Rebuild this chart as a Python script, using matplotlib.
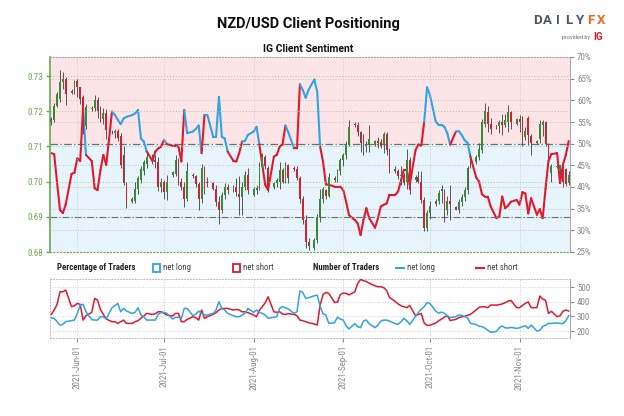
import matplotlib
matplotlib.use('Agg')
import matplotlib.pyplot as plt
import matplotlib.dates as mdates
from matplotlib import font_manager
from matplotlib.collections import LineCollection
from matplotlib.patches import Rectangle
from matplotlib.lines import Line2D
import pandas as pd

# daily candles, Sunday to Friday (no Saturday bars)
days = pd.date_range('2021-05-23', '2021-11-18')
days = days[days.dayofweek != 5]

# NZD/USD daily OHLC, one row per week
opens = [
    0.7168, 0.7176, 0.7216, 0.7235, 0.7282, 0.7292,
    0.7252, 0.7256, 0.7285, 0.7268, 0.7240, 0.7158,
    0.7206, 0.7208, 0.7232, 0.7200, 0.7178, 0.7196,
    0.7142, 0.7138, 0.7145, 0.7130, 0.7075, 0.6996,
    0.6942, 0.6945, 0.6980, 0.7005, 0.7030, 0.7050,
    0.7068, 0.7062, 0.7055, 0.6985, 0.7000, 0.6970,
    0.7018, 0.7022, 0.7062, 0.7000, 0.6985, 0.6950,
    0.7020, 0.7015, 0.6992, 0.6950, 0.7040, 0.7000,
    0.6995, 0.6980, 0.6942, 0.6920, 0.6962, 0.6985,
    0.6978, 0.6985, 0.6965, 0.6955, 0.6985, 0.7018,
    0.6962, 0.6975, 0.6982, 0.7042, 0.7070, 0.7040,
    0.6985, 0.6995, 0.7000, 0.7032, 0.7000, 0.7048,
    0.7040, 0.7035, 0.7010, 0.6950, 0.6890, 0.6828,
    0.6812, 0.6835, 0.6900, 0.6950, 0.6975, 0.6958,
    0.7010, 0.7005, 0.7030, 0.7062, 0.7075, 0.7105,
    0.7165, 0.7160, 0.7140, 0.7110, 0.7100, 0.7108,
    0.7105, 0.7115, 0.7112, 0.7105, 0.7135, 0.7090,
    0.7035, 0.7030, 0.7015, 0.7020, 0.6998, 0.7060,
    0.7005, 0.7012, 0.7000, 0.6948, 0.6868, 0.6910,
    0.6935, 0.6945, 0.6980, 0.6970, 0.6918, 0.6945,
    0.6928, 0.6920, 0.6942, 0.6955, 0.6975, 0.7072,
    0.7055, 0.7070, 0.7090, 0.7165, 0.7198, 0.7165,
    0.7155, 0.7158, 0.7168, 0.7160, 0.7170, 0.7198,
    0.7165, 0.7178, 0.7182, 0.7128, 0.7180, 0.7130,
    0.7110, 0.7120, 0.7162, 0.7168, 0.7108, 0.7025,
    0.7042, 0.7035, 0.7046, 0.7035, 0.6995,
]
highs = [
    0.7184, 0.7224, 0.7254, 0.7318, 0.7312, 0.7296,
    0.7262, 0.7290, 0.7292, 0.7270, 0.7246, 0.7220,
    0.7214, 0.7245, 0.7240, 0.7215, 0.7210, 0.7205,
    0.7148, 0.7150, 0.7150, 0.7138, 0.7100, 0.7000,
    0.6955, 0.7000, 0.7015, 0.7045, 0.7060, 0.7080,
    0.7078, 0.7075, 0.7070, 0.7010, 0.7005, 0.7018,
    0.7030, 0.7075, 0.7068, 0.7010, 0.7000, 0.7055,
    0.7025, 0.7020, 0.7000, 0.7050, 0.7045, 0.7012,
    0.6998, 0.6990, 0.6960, 0.6970, 0.6995, 0.6992,
    0.6990, 0.7010, 0.7015, 0.7000, 0.7030, 0.7040,
    0.6985, 0.6990, 0.7055, 0.7080, 0.7075, 0.7045,
    0.6998, 0.7010, 0.7055, 0.7038, 0.7055, 0.7050,
    0.7045, 0.7045, 0.7015, 0.6960, 0.6904, 0.6840,
    0.6840, 0.6908, 0.6980, 0.6985, 0.6980, 0.7025,
    0.7015, 0.7035, 0.7068, 0.7080, 0.7115, 0.7175,
    0.7170, 0.7170, 0.7145, 0.7135, 0.7115, 0.7160,
    0.7118, 0.7128, 0.7120, 0.7140, 0.7140, 0.7095,
    0.7045, 0.7035, 0.7045, 0.7025, 0.7092, 0.7070,
    0.7018, 0.7030, 0.7030, 0.6955, 0.6920, 0.6945,
    0.6950, 0.6975, 0.6990, 0.6980, 0.6960, 0.6990,
    0.6932, 0.6950, 0.6965, 0.6985, 0.7045, 0.7082,
    0.7075, 0.7110, 0.7178, 0.7222, 0.7215, 0.7180,
    0.7162, 0.7175, 0.7192, 0.7192, 0.7218, 0.7202,
    0.7180, 0.7190, 0.7185, 0.7155, 0.7185, 0.7135,
    0.7118, 0.7175, 0.7175, 0.7172, 0.7110, 0.7050,
    0.7048, 0.7048, 0.7050, 0.7040, 0.7030,
]
lows = [
    0.7160, 0.7170, 0.7212, 0.7225, 0.7262, 0.7218,
    0.7248, 0.7250, 0.7240, 0.7220, 0.7136, 0.7150,
    0.7200, 0.7200, 0.7180, 0.7170, 0.7165, 0.7120,
    0.7136, 0.7125, 0.7115, 0.7040, 0.6990, 0.6926,
    0.6938, 0.6938, 0.6965, 0.6995, 0.7020, 0.7040,
    0.7050, 0.7040, 0.6972, 0.6970, 0.6950, 0.6948,
    0.7012, 0.7015, 0.6990, 0.6975, 0.6928, 0.6945,
    0.7010, 0.6985, 0.6920, 0.6940, 0.6965, 0.6985,
    0.6975, 0.6930, 0.6880, 0.6910, 0.6950, 0.6965,
    0.6970, 0.6960, 0.6905, 0.6905, 0.6975, 0.6965,
    0.6958, 0.6965, 0.6975, 0.7030, 0.7035, 0.6970,
    0.6980, 0.6985, 0.6980, 0.6995, 0.6995, 0.6995,
    0.7030, 0.7005, 0.6940, 0.6880, 0.6810, 0.6805,
    0.6805, 0.6825, 0.6885, 0.6940, 0.6950, 0.6955,
    0.7000, 0.6998, 0.7020, 0.7045, 0.7065, 0.7100,
    0.7155, 0.7130, 0.7085, 0.7075, 0.7085, 0.7085,
    0.7100, 0.7095, 0.7095, 0.7080, 0.7075, 0.7025,
    0.7025, 0.7008, 0.6990, 0.6990, 0.6980, 0.6965,
    0.7000, 0.6995, 0.6940, 0.6860, 0.6860, 0.6895,
    0.6930, 0.6935, 0.6940, 0.6885, 0.6905, 0.6890,
    0.6918, 0.6912, 0.6930, 0.6945, 0.6965, 0.7040,
    0.7050, 0.7060, 0.7080, 0.7155, 0.7140, 0.7135,
    0.7150, 0.7138, 0.7132, 0.7155, 0.7140, 0.7150,
    0.7160, 0.7140, 0.7100, 0.7118, 0.7104, 0.7075,
    0.7106, 0.7110, 0.7130, 0.7100, 0.7050, 0.7000,
    0.7038, 0.7020, 0.6985, 0.6988, 0.6990,
]
closes = [
    0.7178, 0.7216, 0.7248, 0.7282, 0.7292, 0.7250,
    0.7257, 0.7284, 0.7268, 0.7236, 0.7155, 0.7212,
    0.7210, 0.7232, 0.7200, 0.7178, 0.7196, 0.7148,
    0.7140, 0.7145, 0.7125, 0.7046, 0.6996, 0.6935,
    0.6950, 0.6980, 0.7009, 0.7037, 0.7056, 0.7070,
    0.7062, 0.7055, 0.6985, 0.7000, 0.6970, 0.7000,
    0.7026, 0.7062, 0.7000, 0.6985, 0.6950, 0.7030,
    0.7015, 0.6992, 0.6950, 0.7040, 0.6975, 0.6995,
    0.6980, 0.6942, 0.6920, 0.6962, 0.6985, 0.6975,
    0.6985, 0.6970, 0.6955, 0.6985, 0.7018, 0.6975,
    0.6978, 0.6982, 0.7045, 0.7070, 0.7045, 0.6982,
    0.6995, 0.7005, 0.7032, 0.7000, 0.7048, 0.7010,
    0.7035, 0.7010, 0.6950, 0.6890, 0.6828, 0.6818,
    0.6835, 0.6900, 0.6950, 0.6978, 0.6958, 0.7012,
    0.7005, 0.7030, 0.7062, 0.7075, 0.7105, 0.7155,
    0.7160, 0.7140, 0.7110, 0.7100, 0.7108, 0.7120,
    0.7115, 0.7110, 0.7100, 0.7135, 0.7090, 0.7032,
    0.7030, 0.7015, 0.7020, 0.6995, 0.7062, 0.6975,
    0.7012, 0.7000, 0.6948, 0.6868, 0.6910, 0.6930,
    0.6945, 0.6968, 0.6972, 0.6918, 0.6945, 0.6935,
    0.6920, 0.6942, 0.6955, 0.6975, 0.7040, 0.7048,
    0.7070, 0.7092, 0.7170, 0.7200, 0.7165, 0.7150,
    0.7160, 0.7168, 0.7160, 0.7175, 0.7198, 0.7168,
    0.7178, 0.7170, 0.7128, 0.7145, 0.7132, 0.7110,
    0.7115, 0.7165, 0.7170, 0.7108, 0.7056, 0.7045,
    0.7045, 0.7046, 0.7000, 0.6992, 0.7018,
]

# percentage of clients net long
long_pct = [
    47.8, 47.6, 41.0, 34.7, 34.0, 36.0,
    43.0, 43.3, 46.6, 46.0, 58.2, 47.4,
    46.0, 39.7, 39.3, 43.9, 47.4, 45.1,
    57.4, 56.6, 55.5, 54.5, 55.8, 56.2,
    56.6, 57.0, 57.8, 51.2, 50.5, 48.2,
    46.0, 48.2, 48.9, 49.3, 50.9, 49.9,
    49.5, 49.5, 49.3, 45.9, 57.8, 52.4,
    52.8, 53.4, 54.2, 47.8, 56.6, 56.6,
    51.6, 51.6, 60.8, 51.6, 51.2, 48.2,
    46.0, 45.9, 47.8, 50.5, 50.6, 52.0,
    52.8, 53.9, 49.8, 45.1, 40.5, 39.3,
    47.0, 47.4, 49.3, 49.8, 54.2, 52.6,
    48.9, 48.9, 63.7, 62.4, 60.6, 62.4,
    64.8, 62.0, 49.3, 45.9, 40.6, 40.5,
    40.1, 40.1, 40.1, 39.3, 36.6, 33.5,
    32.4, 31.6, 28.9, 32.4, 35.1, 32.8,
    30.6, 32.8, 35.5, 35.9, 36.2, 38.2,
    38.2, 39.0, 41.6, 44.0, 44.0, 40.5,
    48.5, 49.8, 49.5, 55.0, 63.0, 61.2,
    55.1, 54.3, 54.3, 53.9, 52.4, 49.8,
    52.8, 52.9, 52.0, 50.8, 50.2, 47.0,
    42.2, 41.2, 38.3, 37.8, 37.8, 35.5,
    32.8, 33.2, 37.8, 35.1, 35.7, 36.6,
    37.0, 35.9, 38.8, 38.5, 33.9, 37.4,
    33.6, 34.9, 32.8, 39.7, 46.0, 47.6,
    47.8, 40.9, 45.1, 47.4, 50.6,
]

# number of traders
n_long = [
    291, 287, 264, 241, 246, 264,
    271, 275, 321, 378, 383, 332,
    278, 275, 275, 298, 298, 282,
    360, 374, 389, 332, 355, 337,
    321, 328, 360, 310, 298, 275,
    275, 275, 314, 328, 328, 321,
    282, 294, 294, 287, 355, 355,
    305, 316, 337, 321, 310, 310,
    321, 344, 401, 355, 344, 321,
    305, 298, 298, 310, 321, 355,
    328, 344, 328, 321, 310, 287,
    294, 298, 355, 367, 360, 351,
    321, 332, 474, 465, 424, 428,
    442, 446, 370, 318, 310, 252,
    257, 295, 282, 275, 236, 214,
    250, 230, 223, 270, 275, 250,
    223, 241, 268, 275, 275, 268,
    250, 246, 264, 287, 270, 245,
    300, 328, 350, 367, 395, 389,
    337, 322, 330, 322, 305, 292,
    298, 310, 306, 300, 290, 252,
    245, 232, 230, 220, 205, 191,
    197, 222, 235, 222, 220, 225,
    218, 222, 230, 236, 218, 241,
    200, 205, 230, 240, 252, 252,
    255, 252, 250, 270, 305,
]
n_short = [
    314, 344, 383, 469, 469, 481,
    367, 374, 389, 383, 275, 305,
    328, 424, 412, 348, 314, 282,
    264, 264, 252, 264, 275, 252,
    252, 264, 271, 287, 303, 321,
    314, 319, 332, 332, 321, 310,
    303, 321, 321, 264, 264, 280,
    298, 291, 275, 344, 287, 298,
    314, 326, 344, 355, 355, 355,
    344, 348, 344, 332, 332, 326,
    310, 298, 344, 367, 394, 435,
    332, 328, 332, 316, 314, 319,
    314, 305, 275, 271, 264, 257,
    248, 241, 378, 450, 465, 458,
    396, 398, 451, 460, 458, 448,
    469, 525, 554, 545, 540, 528,
    510, 504, 504, 498, 478, 430,
    403, 386, 373, 367, 360, 375,
    305, 314, 320, 255, 238, 240,
    255, 270, 282, 295, 305, 272,
    280, 292, 298, 300, 308, 314,
    345, 362, 367, 366, 360, 378,
    378, 381, 386, 394, 405, 410,
    360, 360, 375, 390, 400, 360,
    360, 440, 420, 410, 321, 335,
    298, 305, 335, 344, 337,
]

month_ticks = ['2021-06-01', '2021-07-01', '2021-08-01',
               '2021-09-01', '2021-10-01', '2021-11-01']
price_ticks = [0.68, 0.69, 0.70, 0.71, 0.72, 0.73]
pct_ticks = [25, 30, 35, 40, 45, 50, 55, 60, 65, 70]
count_ticks = [200, 300, 400, 500]

BLUE = '#2ea3e6'
RED = '#e2182c'
CANDLE_UP = '#3a8a35'
CANDLE_DOWN = '#d42030'
AXIS_GREEN = '#6aa84f'
GREY = '#8a8a8a'


def pick_font(*names):
    have = {f.name for f in font_manager.fontManager.ttflist}
    for n in names:
        if n in have:
            return n
    return 'DejaVu Sans'


FONT = pick_font('Roboto Condensed', 'Liberation Sans Narrow', 'Roboto')
TITLE_FONT = pick_font('Roboto', 'Liberation Sans')
plt.rcParams['font.family'] = [FONT, 'DejaVu Sans']


def main():
    x = mdates.date2num(days)
    months = mdates.date2num(pd.to_datetime(month_ticks))
    xlim = (x[0] - 0.45, x[-1] + 0.45)

    fig = plt.figure(figsize=(6.24, 4.16), dpi=100)
    fig.patch.set_facecolor('white')

    # ---- top panel: price candles + sentiment line
    ax = fig.add_axes([50 / 624, 1 - 252 / 416, 520 / 624, 195 / 416])
    ax2 = ax.twinx()
    ax.set_zorder(ax2.get_zorder() + 1)
    ax.patch.set_visible(False)

    ax2.axhspan(50, 70, color='#fde5e7', lw=0, zorder=0)
    ax2.axhspan(25, 50, color='#e7f4fc', lw=0, zorder=0)
    for p in pct_ticks:
        if p in (25, 50, 70):
            continue
        ax2.axhline(p, color='#b8b8b8', ls=(0, (1, 2)), lw=0.6, zorder=1)
    ax2.axhline(50, color='#6e6e6e', ls=(0, (6, 2, 1, 2)), lw=0.9, zorder=1)

    for p in price_ticks[1:]:
        ax.axhline(p, color='#a9c98a', ls=(0, (1, 2)), lw=0.7, zorder=1)
    ax.axhline(0.69, color='#6e6e6e', ls=(0, (6, 2, 1, 2)), lw=0.8, zorder=1)
    for m in months:
        ax.axvline(m, color='#c4c4c4', ls=(0, (1, 2)), lw=0.6, zorder=1)

    # sentiment line, colour of each piece taken from its starting value
    segs = []
    cols = []
    for i in range(len(x) - 1):
        segs.append([(x[i], long_pct[i]), (x[i + 1], long_pct[i + 1])])
        cols.append(BLUE if long_pct[i] >= 50 else RED)
    lc = LineCollection(segs, colors=cols, linewidths=1.5,
                        capstyle='round', joinstyle='round', zorder=3)
    ax2.add_collection(lc)

    # candles
    ax.vlines(x, lows, highs, color='#555555', lw=0.7, zorder=4)
    bottoms = [min(o, c) for o, c in zip(opens, closes)]
    heights = [max(abs(c - o), 0.00012) for o, c in zip(opens, closes)]
    colors = [CANDLE_UP if c >= o else CANDLE_DOWN for o, c in zip(opens, closes)]
    ax.bar(x, heights, bottom=bottoms, width=0.62, color=colors, lw=0, zorder=5)

    ax.set_xlim(xlim)
    ax.set_ylim(0.68, 0.7354)
    ax2.set_ylim(25, 70)
    ax.set_xticks([])
    ax.set_yticks(price_ticks)
    ax.set_yticklabels([f'{p:.2f}' for p in price_ticks])
    ax.tick_params(axis='y', colors=AXIS_GREEN, labelsize=6.5, length=3,
                   width=1, pad=2)
    ax2.set_yticks(pct_ticks)
    ax2.set_yticklabels([f'{p}%' for p in pct_ticks])
    ax2.tick_params(axis='y', colors=GREY, labelsize=6.5, length=3, pad=2)

    ax.spines['left'].set_color(AXIS_GREEN)
    ax.spines['left'].set_linewidth(1.2)
    ax.spines['right'].set_visible(False)
    ax.spines['top'].set_linestyle((0, (1, 2)))
    ax.spines['top'].set_color('#999999')
    ax.spines['top'].set_linewidth(0.7)
    ax.spines['bottom'].set_linestyle((0, (1, 2)))
    ax.spines['bottom'].set_color(AXIS_GREEN)
    ax.spines['bottom'].set_linewidth(0.8)
    for s in ('left', 'top', 'bottom'):
        ax2.spines[s].set_visible(False)
    ax2.spines['right'].set_color('#aaaaaa')

    # ---- bottom panel: number of traders
    ax3 = fig.add_axes([50 / 624, 1 - 338 / 416, 520 / 624, 59 / 416])
    for v in count_ticks:
        ax3.axhline(v, color='#c4c4c4', ls=(0, (1, 2)), lw=0.6, zorder=1)
    for m in months:
        ax3.axvline(m, color='#c4c4c4', ls=(0, (1, 2)), lw=0.6, zorder=1)
    ax3.plot(x, n_short, color=RED, lw=1.1, zorder=3)
    ax3.plot(x, n_long, color=BLUE, lw=1.1, zorder=3)
    ax3.set_xlim(xlim)
    ax3.set_ylim(152, 557)
    ax3.yaxis.tick_right()
    ax3.set_yticks(count_ticks)
    ax3.tick_params(axis='y', colors=GREY, labelsize=6.5, length=3, pad=2)
    ax3.set_xticks(months)
    ax3.set_xticklabels([pd.Timestamp(m).strftime('%Y-%b-%d') for m in month_ticks],
                        rotation=90)
    ax3.tick_params(axis='x', colors=GREY, labelsize=6.5, length=3, pad=2)
    for s in ('left', 'top', 'bottom'):
        ax3.spines[s].set_linestyle((0, (1, 2)))
        ax3.spines[s].set_color('#bbbbbb')
        ax3.spines[s].set_linewidth(0.7)
    ax3.spines['right'].set_color('#aaaaaa')

    # ---- titles, logo, legend row
    fig.text(308 / 624, 1 - 24 / 416, 'NZD/USD Client Positioning',
             family=[TITLE_FONT, 'DejaVu Sans'], fontsize=10.5,
             fontweight='bold', ha='center', va='center', color='#111111')
    fig.text(308 / 624, 1 - 49 / 416, 'IG Client Sentiment',
             family=[TITLE_FONT, 'DejaVu Sans'], fontsize=7.5,
             fontweight='bold', ha='center', va='center', color='#111111')
    # DailyFX logo, spaced letters
    for i, ch in enumerate('DAILYFX'):
        fig.text((537 + i * 10.7) / 624, 1 - 21 / 416, ch,
                 family=[TITLE_FONT, 'DejaVu Sans'], fontsize=9.5,
                 fontweight='bold', ha='center', va='center',
                 color='#f26a21' if ch in 'FX' else '#4b5563')
    fig.text(590 / 624, 1 - 37 / 416, 'provided by', fontsize=4.5,
             color='#777777', ha='right', va='center')
    fig.text(603 / 624, 1 - 37 / 416, 'IG', family=[TITLE_FONT, 'DejaVu Sans'],
             fontsize=7, fontweight='bold', color='#e21b2d', ha='right', va='center')

    ly = 1 - 268 / 416
    fig.text(57 / 624, ly, 'Percentage of Traders', fontsize=6.3,
             fontweight='bold', color='#222222', va='center')
    fig.add_artist(Rectangle((153 / 624, 1 - 272 / 416), 7 / 624, 8 / 416,
                             transform=fig.transFigure, fill=False,
                             ec=BLUE, lw=1.3))
    fig.text(163 / 624, ly, 'net long', fontsize=6.3, color='#444444', va='center')
    fig.add_artist(Rectangle((233 / 624, 1 - 272 / 416), 7 / 624, 8 / 416,
                             transform=fig.transFigure, fill=False,
                             ec=RED, lw=1.3))
    fig.text(243 / 624, ly, 'net short', fontsize=6.3, color='#444444', va='center')
    fig.text(313 / 624, ly, 'Number of Traders', fontsize=6.3,
             fontweight='bold', color='#222222', va='center')
    fig.add_artist(Line2D([396 / 624, 404 / 624], [ly, ly],
                          transform=fig.transFigure, color=BLUE, lw=1.5))
    fig.text(407 / 624, ly, 'net long', fontsize=6.3, color='#444444', va='center')
    fig.add_artist(Line2D([476 / 624, 484 / 624], [ly, ly],
                          transform=fig.transFigure, color=RED, lw=1.5))
    fig.text(487 / 624, ly, 'net short', fontsize=6.3, color='#444444', va='center')

    fig.savefig('out.png', dpi=100)


if __name__ == '__main__':
    main()
